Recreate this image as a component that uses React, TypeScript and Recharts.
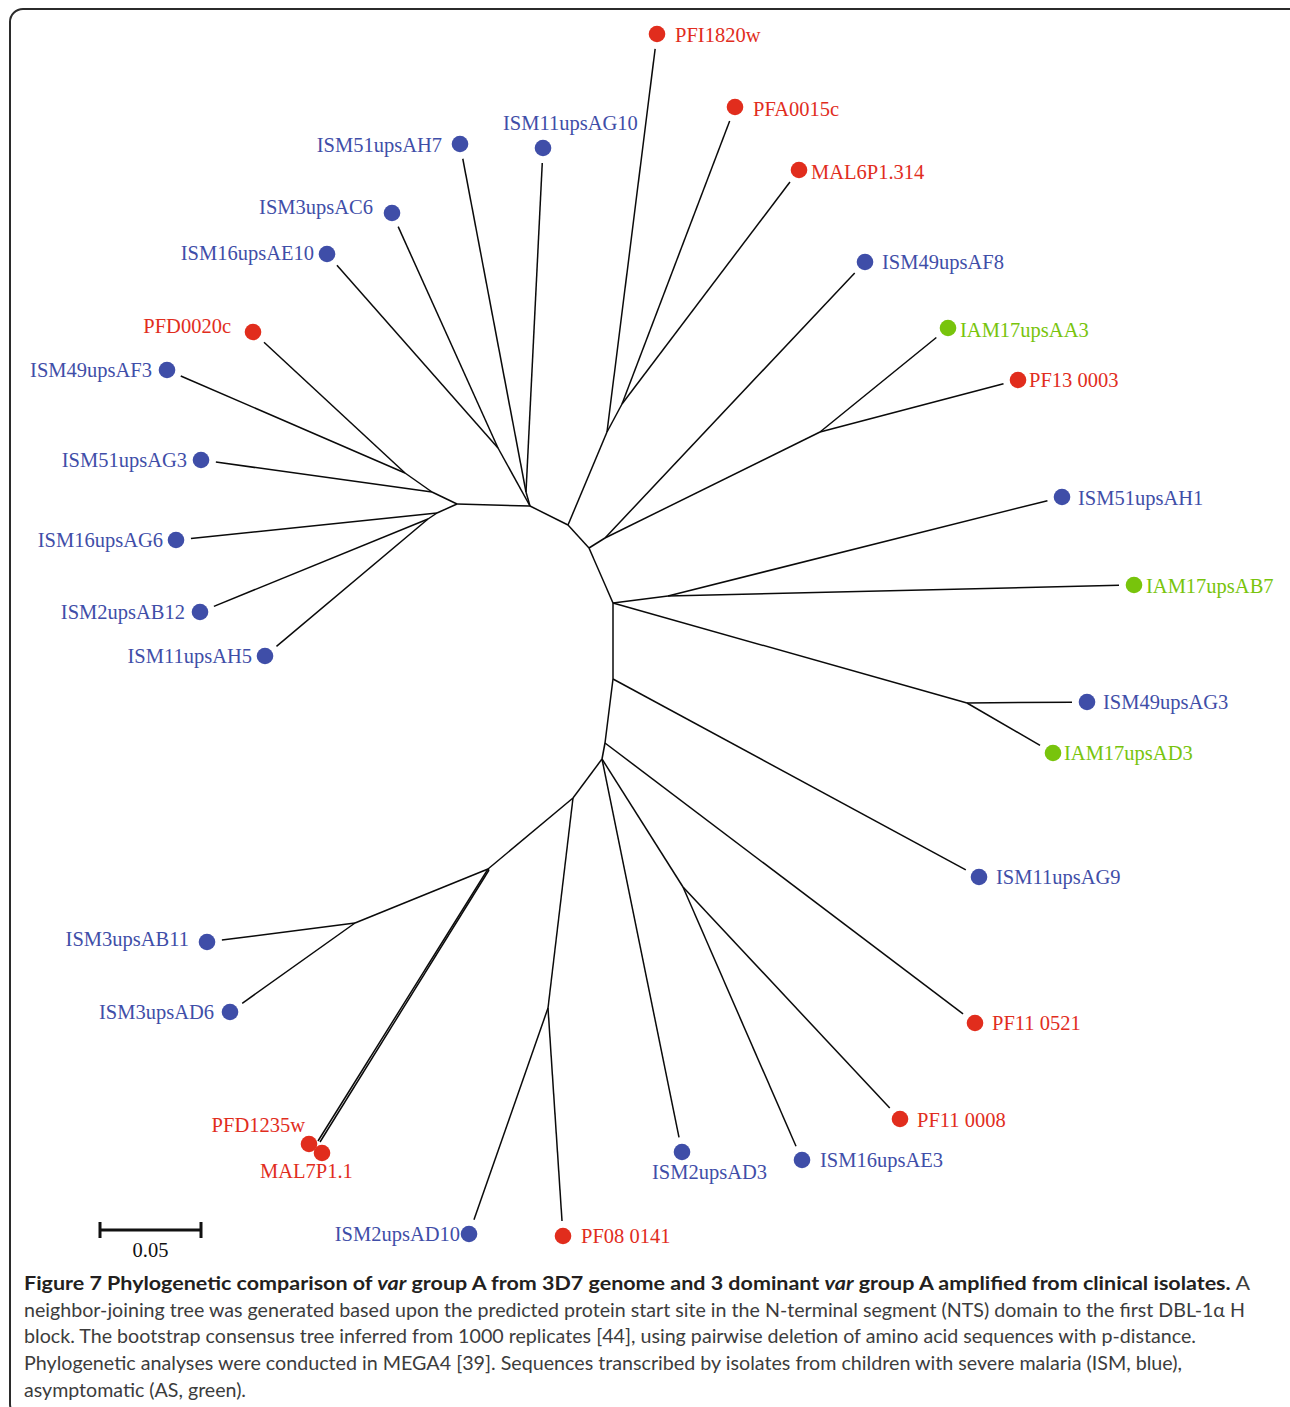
import { ReferenceLine, Scatter, ScatterChart, XAxis, YAxis } from "recharts";

// Inner nodes of the neighbour-joining tree: [id, x, y, parent]
const innerNodes: [string, number, number, string | null][] = [
  ["B", 530, 506, null],
  ["A", 457, 504, "B"],
  ["N1", 432, 492, "A"],
  ["N2", 405, 473, "N1"],
  ["N3", 437, 513, "A"],
  ["N4", 428, 519, "N3"],
  ["Q", 498, 448, "B"],
  ["P", 526, 492, "B"],
  ["C", 568, 525, "B"],
  ["R1", 607, 432, "C"],
  ["R2", 622, 404, "R1"],
  ["D", 589, 548, "C"],
  ["T", 605, 538, "D"],
  ["S", 820, 432, "T"],
  ["E", 613, 603, "D"],
  ["U", 668, 596, "E"],
  ["V", 967, 703, "E"],
  ["F", 613, 679, "E"],
  ["G", 605, 743, "F"],
  ["H", 602, 759, "G"],
  ["W", 683, 887, "H"],
  ["I", 573, 798, "H"],
  ["J", 488, 869, "I"],
  ["X", 489, 870, "J"],
  ["L", 355, 923, "J"],
  ["K", 548, 1008, "I"],
];

// Leaves: [name, x, y, parent] — x/y is the marker position
const leaves: [string, number, number, string][] = [
  ["PFI1820w", 657, 34, "R1"],
  ["PFA0015c", 735, 107, "R2"],
  ["MAL6P1.314", 799, 170, "R2"],
  ["ISM49upsAF8", 865, 262, "T"],
  ["IAM17upsAA3", 948, 328, "S"],
  ["PF13 0003", 1018, 380, "S"],
  ["ISM51upsAH1", 1062, 497, "U"],
  ["IAM17upsAB7", 1134, 585, "U"],
  ["ISM49upsAG3", 1087, 702, "V"],
  ["IAM17upsAD3", 1053, 753, "V"],
  ["ISM11upsAG9", 979, 877, "F"],
  ["PF11 0521", 975, 1023, "G"],
  ["PF11 0008", 900, 1119, "W"],
  ["ISM16upsAE3", 802, 1160, "W"],
  ["ISM2upsAD3", 682, 1152, "H"],
  ["PF08 0141", 563, 1236, "K"],
  ["ISM2upsAD10", 469, 1234, "K"],
  ["MAL7P1.1", 322, 1153, "X"],
  ["PFD1235w", 309, 1144, "J"],
  ["ISM3upsAD6", 230, 1012, "L"],
  ["ISM3upsAB11", 207, 942, "L"],
  ["ISM11upsAH5", 265, 656, "N4"],
  ["ISM2upsAB12", 200, 612, "N4"],
  ["ISM16upsAG6", 176, 540, "N3"],
  ["ISM51upsAG3", 201, 460, "N1"],
  ["ISM49upsAF3", 167, 370, "N2"],
  ["PFD0020c", 253, 332, "N2"],
  ["ISM16upsAE10", 327, 254, "Q"],
  ["ISM3upsAC6", 392, 213, "Q"],
  ["ISM51upsAH7", 460, 144, "P"],
  ["ISM11upsAG10", 543, 148, "P"],
];

// the two overlapping markers share almost the same branch tip
const branchTips: Record<string, [number, number]> = {
  PFD1235w: [318, 1141],
  "MAL7P1.1": [320, 1142],
};

// 3D7 reference genes (red) and asymptomatic isolates (green); the rest are ISM (blue)
const genes3D7 = [
  "PFI1820w", "PFA0015c", "MAL6P1.314", "PF13 0003", "PF11 0521", "PF11 0008",
  "PF08 0141", "MAL7P1.1", "PFD1235w", "PFD0020c",
];
const asymptomatic = ["IAM17upsAA3", "IAM17upsAB7", "IAM17upsAD3"];

const scaleBarValue = 0.05;
const unitsPerDistance = 2020;

const BLUE = "#3f4ea8";
const RED = "#e12d1d";
const GREEN = "#78c40c";
const SERIF = "'Liberation Serif', 'Times New Roman', serif";
const DOT_GAP = 15;

// label placement: [anchor, dx, dy] from the marker centre
const labelPos: Record<string, ["start" | "end", number, number]> = {
  PFI1820w: ["start", 18, 1],
  PFA0015c: ["start", 18, 2],
  "MAL6P1.314": ["start", 12, 2],
  ISM49upsAF8: ["start", 17, 0],
  IAM17upsAA3: ["start", 12, 2],
  "PF13 0003": ["start", 11, 0],
  ISM51upsAH1: ["start", 16, 1],
  IAM17upsAB7: ["start", 12, 1],
  ISM49upsAG3: ["start", 16, 0],
  IAM17upsAD3: ["start", 11, 0],
  ISM11upsAG9: ["start", 17, 0],
  "PF11 0521": ["start", 17, 0],
  "PF11 0008": ["start", 17, 1],
  ISM16upsAE3: ["start", 18, 0],
  ISM2upsAD3: ["start", -30, 20],
  "PF08 0141": ["start", 18, 0],
  ISM2upsAD10: ["end", -9, 0],
  "MAL7P1.1": ["start", -62, 18],
  PFD1235w: ["end", -4, -19],
  ISM3upsAD6: ["end", -16, 0],
  ISM3upsAB11: ["end", -18, -3],
  ISM11upsAH5: ["end", -13, 0],
  ISM2upsAB12: ["end", -15, 0],
  ISM16upsAG6: ["end", -13, 0],
  ISM51upsAG3: ["end", -14, 0],
  ISM49upsAF3: ["end", -15, 0],
  PFD0020c: ["end", -22, -6],
  ISM16upsAE10: ["end", -13, -1],
  ISM3upsAC6: ["end", -19, -6],
  ISM51upsAH7: ["end", -18, 1],
  ISM11upsAG10: ["start", -40, -25],
};

const nodeById: Record<string, { x: number; y: number }> = {};
innerNodes.forEach(([id, x, y]) => (nodeById[id] = { x, y }));

type Seg = { key: string; a: { x: number; y: number }; b: { x: number; y: number } };
const branches: Seg[] = [];
innerNodes.forEach(([id, x, y, parent]) => {
  if (parent) branches.push({ key: id, a: nodeById[parent], b: { x, y } });
});
// leaf branches stop short of the marker
leaves.forEach(([name, x, y, parent]) => {
  const p = nodeById[parent];
  const tip = branchTips[name];
  if (tip) {
    branches.push({ key: name, a: p, b: { x: tip[0], y: tip[1] } });
    return;
  }
  const len = Math.hypot(x - p.x, y - p.y);
  const end = { x: x - ((x - p.x) / len) * DOT_GAP, y: y - ((y - p.y) / len) * DOT_GAP };
  branches.push({ key: name, a: p, b: end });
});

const tips = leaves.map(([name, x, y]) => ({ name, x, y }));
const redTips = tips.filter((t) => genes3D7.includes(t.name));
const greenTips = tips.filter((t) => asymptomatic.includes(t.name));
const blueTips = tips.filter((t) => !genes3D7.includes(t.name) && !asymptomatic.includes(t.name));

function TipMarker(props: any) {
  const { cx, cy, payload, color } = props;
  const [anchor, dx, dy] = labelPos[payload.name];
  return (
    <g>
      <circle cx={cx} cy={cy} r={8.3} fill={color} />
      <text
        x={cx + dx}
        y={cy + dy}
        textAnchor={anchor}
        dominantBaseline="central"
        fill={color}
        fontFamily={SERIF}
        fontSize={20.5}
      >
        {payload.name}
      </text>
    </g>
  );
}

const barStart = 100;
const barEnd = barStart + scaleBarValue * unitsPerDistance;
const barY = 1230;

const CAPTION_FONT = "Lato, 'Open Sans', sans-serif";

export default function App() {
  return (
    <div style={{ position: "relative", width: 1290, height: 1407, overflow: "hidden", background: "#fff" }}>
      <style>{"body{margin:0}"}</style>
      <div
        style={{
          position: "absolute",
          left: 9,
          top: 8,
          width: 1300,
          height: 1410,
          border: "2px solid #2b2b2b",
          borderRadius: 14,
          boxSizing: "border-box",
        }}
      />
      <div style={{ position: "absolute", left: 0, top: 0 }}>
        <ScatterChart width={1290} height={1270} margin={{ top: 0, right: 0, bottom: 0, left: 0 }}>
          <XAxis type="number" dataKey="x" domain={[0, 1290]} hide />
          <YAxis type="number" dataKey="y" domain={[0, 1270]} reversed hide />
          {branches.map((s) => (
            <ReferenceLine
              key={s.key}
              segment={[s.a, s.b]}
              stroke="#0a0a0a"
              strokeWidth={1.5}
              ifOverflow="visible"
            />
          ))}
          {/* scale bar */}
          <ReferenceLine
            segment={[{ x: barStart, y: barY }, { x: barEnd, y: barY }]}
            stroke="#111"
            strokeWidth={3}
            label={{ value: "0.05", position: "bottom", offset: 12, fill: "#111", fontSize: 20.5, fontFamily: SERIF }}
          />
          <ReferenceLine segment={[{ x: barStart, y: barY - 8 }, { x: barStart, y: barY + 8 }]} stroke="#111" strokeWidth={3} />
          <ReferenceLine segment={[{ x: barEnd, y: barY - 8 }, { x: barEnd, y: barY + 8 }]} stroke="#111" strokeWidth={3} />
          <Scatter data={blueTips} isAnimationActive={false} shape={(p: any) => <TipMarker {...p} color={BLUE} />} />
          <Scatter data={redTips} isAnimationActive={false} shape={(p: any) => <TipMarker {...p} color={RED} />} />
          <Scatter data={greenTips} isAnimationActive={false} shape={(p: any) => <TipMarker {...p} color={GREEN} />} />
        </ScatterChart>
      </div>
      <svg width={1290} height={147} style={{ position: "absolute", left: 0, top: 1260 }}>
        <g fontFamily={CAPTION_FONT} fontSize={19}>
          <text x={24} y={30} textLength={1226} lengthAdjust="spacingAndGlyphs" fill="#231f20">
            <tspan fontWeight={700}>Figure 7 Phylogenetic comparison of </tspan>
            <tspan fontWeight={700} fontStyle="italic">var</tspan>
            <tspan fontWeight={700}> group A from 3D7 genome and 3 dominant </tspan>
            <tspan fontWeight={700} fontStyle="italic">var</tspan>
            <tspan fontWeight={700}> group A amplified from clinical isolates.</tspan>
            <tspan fill="#3c3c3c"> A</tspan>
          </text>
          <text x={24} y={57} textLength={1221} lengthAdjust="spacingAndGlyphs" fill="#3c3c3c">
            neighbor-joining tree was generated based upon the predicted protein start site in the N-terminal segment (NTS) domain to the first DBL-1α H
          </text>
          <text x={24} y={83} textLength={1172} lengthAdjust="spacingAndGlyphs" fill="#3c3c3c">
            block. The bootstrap consensus tree inferred from 1000 replicates [44], using pairwise deletion of amino acid sequences with p-distance.
          </text>
          <text x={24} y={110} textLength={1158} lengthAdjust="spacingAndGlyphs" fill="#3c3c3c">
            Phylogenetic analyses were conducted in MEGA4 [39]. Sequences transcribed by isolates from children with severe malaria (ISM, blue),
          </text>
          <text x={24} y={137} textLength={222} lengthAdjust="spacingAndGlyphs" fill="#3c3c3c">
            asymptomatic (AS, green).
          </text>
        </g>
      </svg>
    </div>
  );
}
